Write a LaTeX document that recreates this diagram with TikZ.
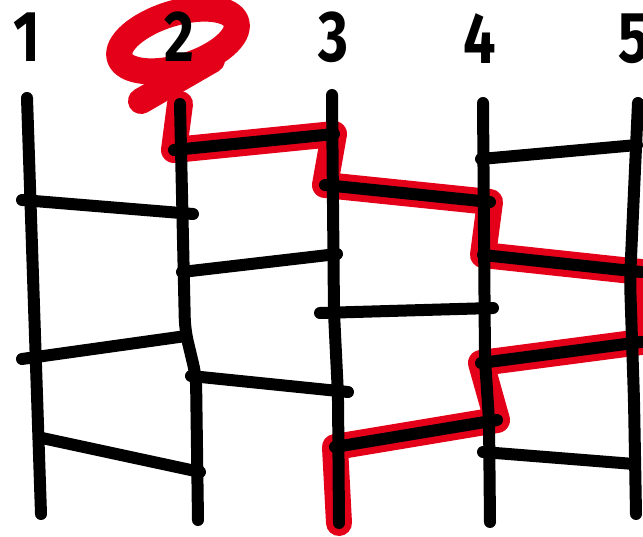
\documentclass[tikz,border=0pt]{standalone}
\usepackage{fontspec}
\setmainfont{Fira Sans}
\definecolor{markred}{RGB}{228,0,24}

\begin{document}
\begin{tikzpicture}[
	x=1pt, y=-1pt,
	line cap=round,
	line join=round,
	rail/.style={line width=12pt, black, rounded corners=12pt},
	rung/.style={line width=12pt, black},
	trail/.style={line width=26pt, markred},
	ring/.style={line width=26pt, markred},
	digit/.style={font=\fontsize{72}{72}\selectfont\bfseries, anchor=base, inner sep=0pt, xscale=0.8}
	]
	\useasboundingbox (0,0) rectangle (643,537);
	
	% Rails
	\coordinate (T1) at (27,98);   \coordinate (B1) at (41,514);
	\coordinate (T2) at (180,104); \coordinate (B2) at (198,520);
	\coordinate (T3) at (332,95);  \coordinate (B3) at (339,523);
	\coordinate (T4) at (483,103); \coordinate (B4) at (490,522);
	\coordinate (T5) at (638,103); \coordinate (B5) at (636,514);
	
	% Rungs 1-2
	\coordinate (R12a-L) at (22,200);  \coordinate (R12a-R) at (193,214);
	\coordinate (R12b-L) at (22,359);  \coordinate (R12b-R) at (186,336);
	\coordinate (R12c-L) at (42,438);  \coordinate (R12c-R) at (200,472);
	% Rungs 2-3
	\coordinate (R23a-L) at (174,150); \coordinate (R23a-R) at (334,134);
	\coordinate (R23b-L) at (182,272); \coordinate (R23b-R) at (337,254);
	\coordinate (R23c-L) at (191,376); \coordinate (R23c-R) at (348,392);
	% Rungs 3-4
	\coordinate (R34a-L) at (325,185); \coordinate (R34a-R) at (490,202);
	\coordinate (R34b-L) at (320,313); \coordinate (R34b-R) at (493,308);
	\coordinate (R34c-L) at (335,447); \coordinate (R34c-R) at (497,420);
	% Rungs 4-5
	\coordinate (R45a-L) at (481,159); \coordinate (R45a-R) at (637,145);
	\coordinate (R45b-L) at (483,255); \coordinate (R45b-R) at (641,272);
	\coordinate (R45c-L) at (481,363); \coordinate (R45c-R) at (641,342);
	\coordinate (R45d-L) at (483,452); \coordinate (R45d-R) at (634,464);
	
	% Red trail from 2
	\draw[trail] (T2) -- (R23a-L) -- (R23a-R) -- (R34a-L) -- (R34a-R)
		-- (R45b-L) -- (R45b-R) -- (R45c-R) -- (R45c-L)
		-- (R34c-R) -- (R34c-L) -- (B3);
	
	% Red ring round the 2
	\draw[ring, rotate around={17:(178,40)}] (178,40) ellipse (61 and 27);
	\draw[ring] (141,101) -- (212,60);
	
	% Rails
	\draw[rail] (T1) -- (B1);
	\draw[rail] (T2) -- (185,330) -- (196,376) -- (B2);
	\draw[rail] (T3) -- (334,313) -- (338,395) -- (B3);
	\draw[rail] (T4) -- (485,360) -- (489,420) -- (B4);
	\draw[rail] (T5) -- (630,280) -- (634,400) -- (B5);
	
	% Rungs
	\draw[rung] (R12a-L) -- (R12a-R);
	\draw[rung] (R12b-L) -- (R12b-R);
	\draw[rung] (R12c-L) -- (R12c-R);
	\draw[rung] (R23a-L) -- (R23a-R);
	\draw[rung] (R23b-L) -- (R23b-R);
	\draw[rung] (R23c-L) -- (R23c-R);
	\draw[rung] (R34a-L) -- (R34a-R);
	\draw[rung] (R34b-L) -- (R34b-R);
	\draw[rung] (R34c-L) -- (R34c-R);
	\draw[rung] (R45a-L) -- (R45a-R);
	\draw[rung] (R45b-L) -- (R45b-R);
	\draw[rung] (R45c-L) -- (R45c-R);
	\draw[rung] (R45d-L) -- (R45d-R);
	
	% Numbers
	\node[digit] (N1) at (27,62) {1};
	\node[digit] (N2) at (179,62) {2};
	\node[digit] (N3) at (333,62) {3};
	\node[digit] (N4) at (480,64) {4};
	\node[digit] (N5) at (634,63) {5};
\end{tikzpicture}
\end{document}
